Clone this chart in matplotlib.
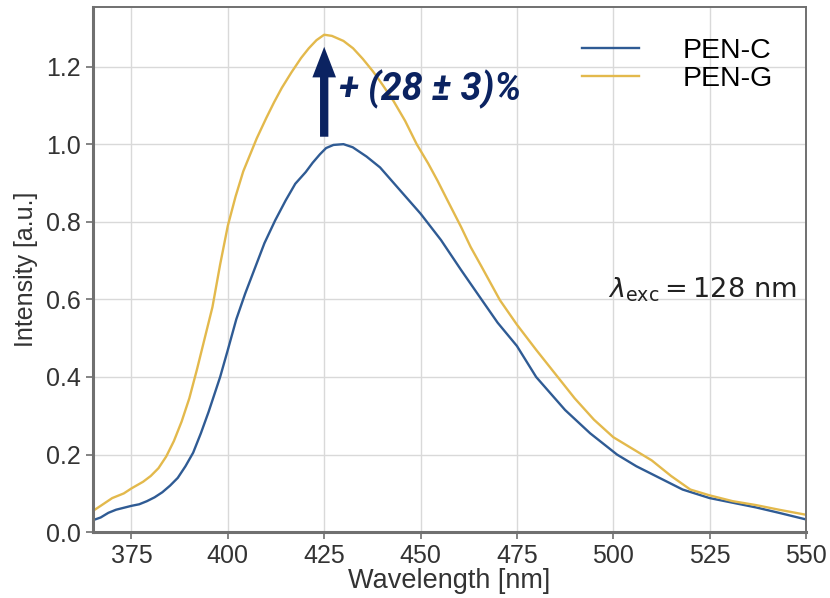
import matplotlib
matplotlib.use('Agg')
import matplotlib.pyplot as plt
from matplotlib.patches import FancyArrowPatch

# emission spectra
wl_c = [365, 367, 369, 371, 373, 375, 377, 379, 381, 383, 385, 387, 389, 391, 393,
        395, 398, 400, 402.2, 404.5, 407, 409.5, 412.3, 415, 417.5, 420.2, 422, 423.9,
        425.5, 427.4, 430, 432.4, 436, 439.5, 444.7, 450, 455.3, 460.5, 465.8, 470,
        475, 480, 487.5, 494, 501, 506, 512, 518, 525, 531, 537, 543, 550]
pen_c = [0.031, 0.038, 0.05, 0.058, 0.063, 0.068, 0.072, 0.08, 0.09, 0.103, 0.12, 0.14,
         0.17, 0.205, 0.255, 0.31, 0.40, 0.47, 0.549, 0.615, 0.68, 0.745, 0.804, 0.855,
         0.898, 0.928, 0.952, 0.974, 0.99, 0.998, 1.0, 0.992, 0.968, 0.94, 0.881, 0.821,
         0.753, 0.676, 0.60, 0.54, 0.48, 0.40, 0.315, 0.255, 0.20, 0.17, 0.14, 0.11,
         0.088, 0.076, 0.064, 0.05, 0.033]

wl_g = [365, 367, 370, 373, 375, 378, 380, 382, 384, 386, 388, 390, 392, 394, 396,
        398, 400, 402, 404, 407.5, 410, 412, 414, 416.5, 419, 421, 423, 425, 427, 430,
        432.5, 435, 437.7, 440, 443, 446, 449, 452, 454.4, 457, 460.5, 463, 465.8,
        470.6, 475, 480, 485.6, 490, 495, 500, 505, 510, 515, 520, 525, 531, 537, 543, 550]
pen_g = [0.055, 0.068, 0.088, 0.10, 0.113, 0.13, 0.145, 0.165, 0.195, 0.235, 0.285,
         0.345, 0.42, 0.50, 0.58, 0.69, 0.79, 0.865, 0.93, 1.015, 1.068, 1.108, 1.145,
         1.185, 1.222, 1.247, 1.268, 1.282, 1.279, 1.266, 1.247, 1.22, 1.187, 1.155,
         1.111, 1.06, 1.0, 0.95, 0.906, 0.855, 0.787, 0.735, 0.685, 0.598, 0.535, 0.47,
         0.40, 0.345, 0.29, 0.245, 0.215, 0.185, 0.145, 0.11, 0.095, 0.08, 0.07, 0.058,
         0.045]

labels = ['PEN-C', 'PEN-G']
x_ticks = [375, 400, 425, 450, 475, 500, 525, 550]
y_ticks = [0.0, 0.2, 0.4, 0.6, 0.8, 1.0, 1.2]

plt.rcParams['font.family'] = ['Liberation Sans', 'DejaVu Sans']
plt.rcParams['mathtext.fontset'] = 'dejavusans'

fig = plt.figure(figsize=(8.3, 5.98), dpi=100)
ax = fig.add_axes([0.112, 0.110, 0.859, 0.878])

ax.plot(wl_c, pen_c, color='#2f5b94', lw=1.7, label=labels[0])
ax.plot(wl_g, pen_g, color='#e3b94c', lw=1.7, label=labels[1])

ax.set_xlim(365, 550)
ax.set_ylim(0, 1.353)
ax.set_xticks(x_ticks)
ax.set_yticks(y_ticks)
ax.grid(True, color='#d9d9d9', lw=1.0)
ax.set_axisbelow(True)
for s in ax.spines.values():
    s.set_color('#707070')
    s.set_linewidth(1.4)
ax.spines['left'].set_linewidth(2.2)
ax.spines['bottom'].set_linewidth(2.2)
ax.tick_params(labelsize=18, colors='#707070', labelcolor='#333333', length=5, width=1.2)

ax.set_xlabel('Wavelength [nm]', fontsize=19.5, color='#333333', labelpad=0)
ax.set_ylabel('Intensity [a.u.]', fontsize=18, color='#333333', labelpad=6)

leg = ax.legend(loc='upper right', fontsize=20.5, frameon=False, handlelength=2.0,
                handletextpad=1.55, labelspacing=0.08, bbox_to_anchor=(0.99, 0.99))

# increase arrow
arr = FancyArrowPatch((425, 1.012), (425, 1.258),
                      arrowstyle='simple,head_width=0.85,head_length=1.1,tail_width=0.3',
                      mutation_scale=20, color='#0b2361', lw=0)
ax.add_patch(arr)
ax.text(428.8, 1.142, '+ (28 ± 3)%', fontsize=27, fontweight='bold', fontstyle='italic',
        family=['Roboto', 'DejaVu Sans'], color='#0b2361', ha='left', va='center')

ax.text(498.6, 0.625, r'$\lambda_{\rm exc} = 128$ nm', fontsize=19.5, family='DejaVu Sans',
        color='#222222', ha='left', va='center')

fig.savefig('out.png', dpi=100)
